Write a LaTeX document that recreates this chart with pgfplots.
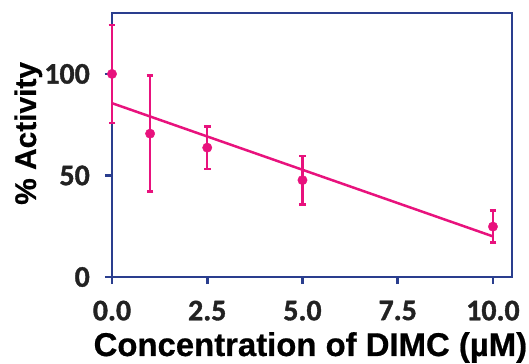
\documentclass[border=0pt]{standalone}
\usepackage{fontspec}
\setmainfont{Liberation Sans}[BoldFeatures={FakeBold=0.6}]
\newfontfamily\calib{Carlito}[BoldFeatures={FakeBold=1.2}]
\usepackage{pgfplots}
\pgfplotsset{compat=1.18}
\definecolor{navyframe}{RGB}{42,62,142}
\definecolor{pinkdata}{RGB}{232,18,125}
\definecolor{ticktext}{RGB}{34,34,34}
\begin{document}
\begin{tikzpicture}
\path[use as bounding box] (-112bp,-87bp) rectangle (417bp,277bp);
\begin{axis}[
  at={(0,0)}, anchor=south west,
  scale only axis,
  width=400bp, height=264bp,
  xmin=0, xmax=10.5, ymin=0, ymax=130,
  xtick={0,2.5,5,7.5,10},
  xticklabels={0.0,2.5,5.0,7.5,10.0},
  ytick={0,50,100},
  axis line style={navyframe, line width=2.8bp},
  every tick/.style={navyframe, line width=2.8bp},
  tick align=outside,
  major tick length=7bp,
  xtick pos=bottom, ytick pos=left,
  /pgf/number format/assume math mode=true,
  ticklabel style={font=\calib\bfseries\fontsize{30}{30}\selectfont, text=ticktext, inner sep=1bp},
  xticklabel style={yshift=-15.5bp},
  yticklabel style={xshift=-14bp},
  xlabel={Concentration of DIMC (\textmu M)},
  ylabel={\% Activity},
  xlabel style={font=\bfseries\fontsize{33}{33}\selectfont, at={(axis description cs:0.496,-0.2992)}, anchor=base, inner sep=1bp},
  ylabel style={font=\bfseries\fontsize{30}{30}\selectfont, at={(axis description cs:-0.19,0.544)}, anchor=base},
  clip=false,
]
\addplot[pinkdata, line width=2.5bp, no marks] coordinates {(0,85.6) (10,20.0)};
\addplot[pinkdata, only marks, mark=*, mark size=4.7bp,
  error bars/.cd, y dir=both, y explicit,
  error bar style={line width=2.5bp, pinkdata},
  error mark options={rotate=90, mark size=3.4bp, line width=2.5bp, pinkdata}]
  coordinates {
  (0,100) +- (0,24.2)
  (1,70.6) +- (0,28.6)
  (2.5,63.7) +- (0,10.5)
  (5,47.7) +- (0,12)
  (10,24.8) +- (0,7.9)
  };
\end{axis}
\end{tikzpicture}
\end{document}
